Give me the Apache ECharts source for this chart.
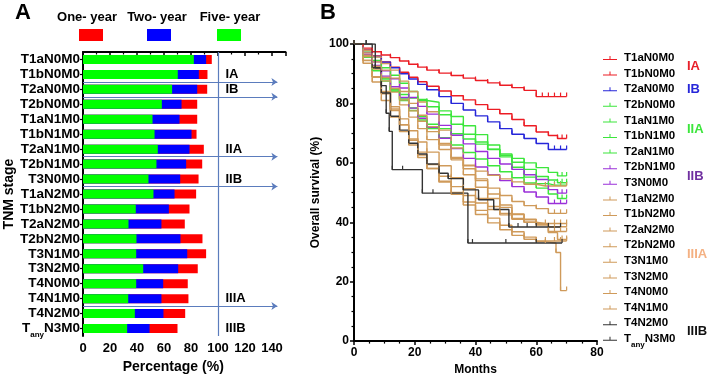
<!DOCTYPE html>
<html>
<head>
<meta charset="utf-8">
<script src="https://cdn.jsdelivr.net/npm/echarts@6/dist/echarts.min.js"></script>
<style>
  html, body { margin: 0; padding: 0; background: #fff; }
  #chart { width: 709px; height: 381px; }
</style>
</head>
<body>
<div id="chart"></div>
<script>
// TNM categories (top to bottom), shared by both panels
const stages = ['T1aN0M0', 'T1bN0M0', 'T2aN0M0', 'T2bN0M0', 'T1aN1M0', 'T1bN1M0', 'T2aN1M0',
  'T2bN1M0', 'T3N0M0', 'T1aN2M0', 'T1bN2M0', 'T2aN2M0', 'T2bN2M0', 'T3N1M0', 'T3N2M0',
  'T4N0M0', 'T4N1M0', 'T4N2M0', 'TanyN3M0'];

// panel A: survival rates (%)
const oneYear = [95.4, 92.2, 92.0, 84.6, 84.6, 84.1, 89.5, 88.3, 85.6, 83.8, 78.9, 75.4, 88.5, 91.2, 85.0, 77.6, 78.1, 75.7, 70.0];
const twoYear = [91.2, 85.8, 84.6, 73.0, 71.5, 80.4, 78.9, 76.4, 72.0, 67.8, 63.6, 58.1, 72.2, 77.2, 70.5, 59.4, 58.1, 59.6, 49.3];
const fiveYear = [82.1, 70.2, 66.0, 58.4, 51.5, 53.0, 55.4, 54.4, 48.5, 52.2, 39.1, 33.7, 39.6, 39.4, 44.6, 39.4, 33.5, 38.4, 32.7];

// panel A: stage group boundaries (row index) and labels
const stageBreaks = [2, 3, 7, 9, 17];
const groupLabelsA = [['IA', 1.5], ['IB', 2.5], ['IIA', 6.5], ['IIB', 8.5], ['IIIA', 16.5], ['IIIB', 18.5]];

// panel B: Kaplan-Meier curves [month, survival %]
const km_T1aN0M0 = [[0,100],[3,98.6],[6,97.4],[9,96.3],[12,95.4],[15,94.3],[18,93.2],[21,92.2],[24,91.2],[28,90.2],[32,89.4],[36,88.5],[40,87.7],[44,86.9],[48,86.1],[52,85.3],[56,84.4],[60,82.3],[62,82.3],[64,82.3],[66,82.3],[68,82.3],[70,82.3]];
const km_T1bN0M0 = [[0,100],[3,98],[6,96],[9,94],[12,92.2],[15,90.5],[18,88.8],[21,87.3],[24,85.8],[28,84.2],[32,82.6],[36,81.2],[40,79.6],[44,78],[48,76.5],[52,74.6],[56,72.5],[60,70.4],[64,69.2],[67,68.2],[68.5,68.2],[70,68.2]];
const km_T2aN0M0 = [[0,100],[3,97.8],[6,95.8],[9,93.9],[12,92],[15,90],[18,88.2],[21,86.4],[24,84.6],[28,82.3],[32,80],[36,77.8],[40,75.8],[44,73.8],[48,71.5],[52,69.6],[56,68.2],[60,66.5],[64,64.5],[66,64.5],[68,64.5],[70,64.5]];
const km_T2bN0M0 = [[0,100],[3,96],[6,92],[9,88.2],[12,84.6],[15,81.5],[18,78.5],[21,75.6],[24,73],[28,71.5],[32,69.8],[36,68],[40,66.3],[44,64.5],[48,63],[52,61.5],[56,60],[60,58.4],[64,56.8],[67,55.6],[68.5,55.6],[70,55.6]];
const km_T1aN1M0 = [[0,100],[3,96.3],[6,92.5],[9,88.5],[12,84.6],[15,81],[18,77.6],[21,74.4],[24,71.5],[28,68.5],[32,66],[36,63.5],[40,61.3],[44,59],[48,57],[52,55],[56,53.2],[60,51.5],[64,49.5],[67,48],[68.5,48],[70,48]];
const km_T1bN1M0 = [[0,100],[3,95.5],[6,91],[9,87.5],[12,84.1],[15,83],[18,81.8],[21,81],[24,80.4],[28,77.5],[32,75.6],[36,72.5],[40,69.5],[44,66],[48,62],[52,58.5],[56,55.2],[60,53],[64,52.5],[66,52.5],[68,52.5],[70,52.5]];
const km_T2aN1M0 = [[0,100],[3,97.2],[6,94.5],[9,92],[12,89.5],[15,86.8],[18,84],[21,81.3],[24,78.9],[28,76.2],[32,73],[36,69.6],[40,67],[44,64.6],[48,62.5],[52,60.2],[56,57.8],[60,55.4],[64,54.2],[67,53.3],[68.5,53.3],[70,53.3]];
const km_T2bN1M0 = [[0,100],[3,97],[6,94],[9,91],[12,88.3],[15,85.2],[18,82],[21,79],[24,76.4],[28,72.6],[32,69.3],[36,66.4],[40,63.8],[44,61.5],[48,59.6],[52,57.8],[56,56],[60,54.4],[64,51],[67,49.8],[68.5,49.8],[70,49.8]];
const km_T3N0M0 = [[0,100],[3,96.4],[6,92.8],[9,89.2],[12,85.6],[15,82],[18,78.4],[21,75],[24,72],[28,68.3],[32,64.8],[36,61.5],[40,58.6],[44,56],[48,54],[52,52],[56,50.2],[60,48.5],[64,46.3],[66,46.3],[68,46.3],[70,46.3]];
const km_T1aN2M0 = [[0,100],[3,95.8],[6,91.6],[9,87.6],[12,83.8],[15,79.5],[18,75.4],[21,71.5],[24,67.8],[28,64.5],[32,61.5],[36,59],[40,57.2],[44,55.8],[48,54.6],[52,53.6],[56,52.8],[60,52.2],[63,52.2],[66,52.2],[68,52.2],[70,52.2]];
const km_T1bN2M0 = [[0,100],[3,94.5],[6,89],[9,84],[12,78.9],[15,74.8],[18,70.8],[21,67],[24,63.6],[28,59],[32,55],[36,51.3],[40,48],[44,45.3],[48,43],[52,41.3],[56,40],[60,39.1],[64,36.5],[67,34.2],[68.5,34.2],[70,34.2]];
const km_T2aN2M0 = [[0,100],[3,93.5],[6,87.2],[9,81],[12,75.4],[15,70.5],[18,66],[21,61.8],[24,58.1],[28,53.8],[32,50],[36,46.8],[40,44],[44,41.4],[48,39],[52,36.8],[56,35],[60,33.7],[63,33.7],[66,33.7],[68,33.7],[70,33.7]];
const km_T2bN2M0 = [[0,100],[3,97],[6,94],[9,91.2],[12,88.5],[15,84],[18,80],[21,76],[24,72.2],[28,66.5],[32,61],[36,56],[40,51.8],[44,48],[48,45],[52,42.6],[56,41],[60,39.6],[63,39.6],[66,39.6],[68,39.6],[70,39.6]];
const km_T3N1M0 = [[0,100],[3,97.8],[6,95.6],[9,93.4],[12,91.2],[15,87.5],[18,84],[21,80.5],[24,77.2],[28,71],[32,65],[36,59.2],[40,54],[44,49.5],[48,45.8],[52,42.8],[56,40.8],[60,39.4],[64,38.5],[66,38.5],[68,38.5],[70,38.5]];
const km_T3N2M0 = [[0,100],[3,96.2],[6,92.5],[9,88.7],[12,85],[15,81.2],[18,77.5],[21,74],[24,70.5],[28,66],[32,61.8],[36,58],[40,54.6],[44,51.5],[48,49],[52,47],[56,45.6],[60,44.6],[64,43],[66,43],[68,43],[70,43]];
const km_T4N0M0 = [[0,100],[3,94.4],[6,88.8],[9,83.2],[12,77.6],[15,72.8],[18,68],[21,63.6],[24,59.4],[28,55.5],[32,52],[36,49],[40,46.5],[44,44.3],[48,42.5],[52,41],[56,40],[60,39.4],[64,36.9],[66,36.9],[68,36.9],[70,36.9]];
const km_T4N1M0 = [[0,100],[3,94.5],[6,89],[9,83.5],[12,78.1],[15,72.8],[18,67.6],[21,62.6],[24,58.1],[28,53.5],[32,49.4],[36,45.8],[40,42.6],[44,39.8],[48,37.5],[52,35.6],[56,34.3],[60,33.5],[63,33],[66.5,29.8],[68,17],[70,17]];
const km_T4N2M0 = [[0,100],[4,100],[6,92],[9,83.5],[12,75.7],[15,71],[18,66.6],[21,63],[24,59.6],[28,56.5],[31,54.7],[36,50.9],[41,47.6],[46,44.3],[51,38.4],[54,38.4],[57,38.4],[60,38.4],[64,38.4],[68,38.4]];
const km_TanyN3M0 = [[0,100],[4,100],[7,92],[9,86],[10.6,76.7],[11.6,70.6],[12.6,57.7],[16,57.7],[22.5,49.8],[26,49.8],[37.5,33],[39,33],[50,33],[60,33],[68.5,33]];

const kmCurves = [km_T1aN0M0, km_T1bN0M0, km_T2aN0M0, km_T2bN0M0, km_T1aN1M0, km_T1bN1M0, km_T2aN1M0,
  km_T2bN1M0, km_T3N0M0, km_T1aN2M0, km_T1bN2M0, km_T2aN2M0, km_T2bN2M0, km_T3N1M0, km_T3N2M0,
  km_T4N0M0, km_T4N1M0, km_T4N2M0, km_TanyN3M0];

// panel B: stage group of each curve, and its labels
const curveGroup = ['IA', 'IA', 'IB', 'IIA', 'IIA', 'IIA', 'IIA', 'IIB', 'IIB',
  'IIIA', 'IIIA', 'IIIA', 'IIIA', 'IIIA', 'IIIA', 'IIIA', 'IIIA', 'IIIB', 'IIIB'];
const groupLabelsB = ['IA', 'IB', 'IIA', 'IIB', 'IIIA', 'IIIB'];

const groupColor = { IA: '#ec1c24', IB: '#2626d9', IIA: '#3ce63c', IIB: '#9b30d9', IIIA: '#cf9a5a', IIIB: '#333333' };
const groupTextColor = { IA: '#e8202a', IB: '#2626d9', IIA: '#3ce63c', IIB: '#7030a0', IIIA: '#f4b183', IIIB: '#111111' };
const groupTextY = { IA: 66, IB: 89, IIA: 129, IIB: 176, IIIA: 254, IIIB: 331 };

const FONT = '"Liberation Sans", Arial, sans-serif';
const subRich = { s: { fontSize: 8, fontWeight: 'bold', fontFamily: FONT, color: '#000', verticalAlign: 'bottom', lineHeight: 14, padding: [0, 0, -3, 0] } };
const fmtStage = v => (v === 'TanyN3M0' ? 'T{s|any}N3M0' : v);

const chart = echarts.init(document.getElementById('chart'));

const kmSeries = stages.map((name, i) => ({
  name: name,
  type: 'line',
  xAxisIndex: 1,
  yAxisIndex: 2,
  step: 'end',
  data: kmCurves[i],
  color: groupColor[curveGroup[i]],
  lineStyle: { width: 1.4 },
  symbol: 'rect',
  symbolSize: [1.2, 4],
  symbolOffset: [0, -2],
  showSymbol: true,
  showAllSymbol: true,
  z: 2
}));

const legendA = [['One- year', '#ff0000', 87, 91], ['Two- year', '#0000ff', 157, 159], ['Five- year', '#00ff00', 230, 229]];

const graphics = [
  { type: 'text', left: 15, top: 2, style: { text: 'A', font: 'bold 22px ' + FONT, fill: '#000' } },
  { type: 'text', left: 320, top: 2, style: { text: 'B', font: 'bold 22px ' + FONT, fill: '#000' } }
];
legendA.forEach(([txt, color, cx, rx]) => {
  graphics.push({ type: 'text', x: cx, y: 17, style: { text: txt, font: 'bold 13px ' + FONT, fill: '#000', align: 'center', verticalAlign: 'middle' } });
  graphics.push({ type: 'rect', shape: { x: rx - 12, y: 29, width: 24, height: 12 }, style: { fill: color } });
});
groupLabelsB.forEach(g => {
  graphics.push({ type: 'text', x: 687, y: groupTextY[g], style: { text: g, font: 'bold 13px ' + FONT, fill: groupTextColor[g], align: 'left', verticalAlign: 'middle' } });
});

const axisLine = { show: true, lineStyle: { color: '#000', width: 2 } };
const tickLabel = { color: '#000', fontWeight: 'bold', fontFamily: FONT };

const option = {
  animation: false,
  textStyle: { fontFamily: FONT },
  graphic: graphics,
  grid: [
    { left: 83, top: 52, width: 202.5, height: 284 },
    { left: 354, top: 44, width: 243, height: 304 }
  ],
  legend: {
    data: stages,
    orient: 'vertical',
    left: 598,
    top: 46,
    itemWidth: 14,
    itemHeight: 7,
    itemGap: 1.6,
    selectedMode: false,
    icon: 'path://M0,3H6.5V0H7.5V3H14V4H0Z',
    formatter: fmtStage,
    textStyle: { fontSize: 11.5, fontWeight: 'bold', color: '#000', lineHeight: 14, padding: [0, 0, 0, 2], rich: subRich }
  },
  xAxis: [
    {
      type: 'value', gridIndex: 0, min: 0, max: 150, interval: 20,
      axisLine: axisLine,
      axisTick: { show: true, length: 4, lineStyle: { color: '#000', width: 1.5 } },
      minorTick: { show: true, splitNumber: 2, length: 2.5, lineStyle: { color: '#000', width: 1.2 } },
      splitLine: { show: false },
      axisLabel: Object.assign({ fontSize: 13, margin: 6, showMaxLabel: false }, tickLabel),
      name: 'Percentage (%)', nameLocation: 'middle', nameGap: 24,
      nameTextStyle: { fontSize: 14, fontWeight: 'bold', color: '#000', padding: [0, 22, 0, 0] }
    },
    {
      type: 'value', gridIndex: 1, min: 0, max: 80, interval: 20,
      axisLine: axisLine,
      axisTick: { show: true, length: 4, lineStyle: { color: '#000', width: 1.5 } },
      minorTick: { show: true, splitNumber: 4, length: 2.5, lineStyle: { color: '#000', width: 1.2 } },
      splitLine: { show: false },
      axisLabel: Object.assign({ fontSize: 12, margin: 6 }, tickLabel),
      name: 'Months', nameLocation: 'middle', nameGap: 22,
      nameTextStyle: { fontSize: 12, fontWeight: 'bold', color: '#000' }
    }
  ],
  yAxis: [
    {
      type: 'category', gridIndex: 0, data: stages, inverse: true,
      axisLine: axisLine,
      axisTick: { show: true, length: 3, alignWithLabel: true, interval: 0, lineStyle: { color: '#000', width: 1.2 } },
      axisLabel: Object.assign({ fontSize: 13.5, margin: 3, interval: 0, formatter: fmtStage, rich: subRich }, tickLabel),
      name: 'TNM stage', nameLocation: 'middle', nameGap: 66, nameRotate: 90,
      nameTextStyle: { fontSize: 14, fontWeight: 'bold', color: '#000' }
    },
    { type: 'value', gridIndex: 0, min: 0, max: 19, inverse: true, show: false },
    {
      type: 'value', gridIndex: 1, min: 0, max: 100, interval: 20,
      axisLine: axisLine,
      axisTick: { show: true, length: 4, lineStyle: { color: '#000', width: 1.5 } },
      minorTick: { show: true, splitNumber: 4, length: 2.5, lineStyle: { color: '#000', width: 1.2 } },
      splitLine: { show: false },
      axisLabel: Object.assign({ fontSize: 12, margin: 5 }, tickLabel),
      name: 'Overall survival (%)', nameLocation: 'middle', nameGap: 32, nameRotate: 90,
      nameTextStyle: { fontSize: 12, fontWeight: 'bold', color: '#000' }
    }
  ],
  series: [
    { name: 'One- year', type: 'bar', xAxisIndex: 0, yAxisIndex: 0, data: oneYear, color: '#ff0000', barWidth: 9, barGap: '-100%', z: 3 },
    { name: 'Two- year', type: 'bar', xAxisIndex: 0, yAxisIndex: 0, data: twoYear, color: '#0000ff', barWidth: 9, barGap: '-100%', z: 3 },
    { name: 'Five- year', type: 'bar', xAxisIndex: 0, yAxisIndex: 0, data: fiveYear, color: '#00ff00', barWidth: 9, barGap: '-100%', z: 3 },
    {
      type: 'line', xAxisIndex: 0, yAxisIndex: 1, data: [], silent: true, z: 1,
      markLine: {
        silent: true, symbol: ['none', 'arrow'], symbolSize: 6,
        lineStyle: { color: '#5b7cbd', width: 1, type: 'solid' },
        label: { show: false },
        data: stageBreaks.map(b => [{ coord: [0, b] }, { coord: [144, b] }])
      },
      markPoint: {
        symbol: 'circle', symbolSize: 0,
        label: { show: true, position: 'right', distance: 0, formatter: '{b}', color: '#000', fontSize: 13, fontWeight: 'bold' },
        data: groupLabelsA.map(([g, r]) => ({ name: g, coord: [105.5, r] }))
      }
    },
    {
      type: 'line', xAxisIndex: 0, yAxisIndex: 1, data: [], silent: true, z: 1,
      markLine: {
        silent: true, symbol: ['none', 'none'],
        lineStyle: { color: '#5b7cbd', width: 1.2, type: 'solid' },
        label: { show: false },
        data: [{ xAxis: 100 }]
      }
    }
  ].concat(kmSeries)
};

chart.setOption(option);
</script>
</body>
</html>
